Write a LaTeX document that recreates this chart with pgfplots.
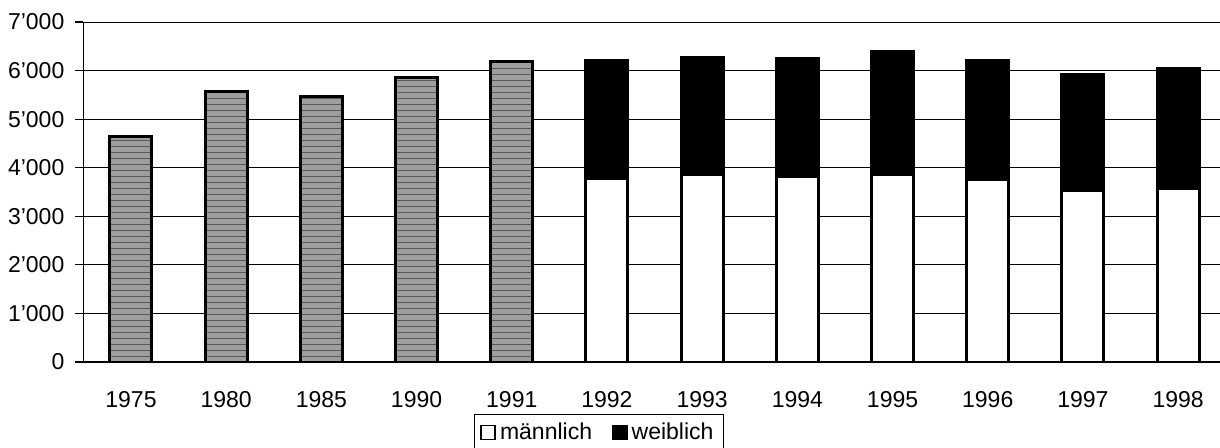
\documentclass[border=0pt]{standalone}
\usepackage{pgfplots}
\pgfplotsset{compat=1.18}
\usepackage{pgfplotstable}
\usetikzlibrary{patterns}
\usepackage{fontspec}
\setmainfont{Liberation Sans}
\pgfplotstableread{
idx year gray male female
0 1975 4650 0 0
1 1980 5560 0 0
2 1985 5470 0 0
3 1990 5850 0 0
4 1991 6180 0 0
5 1992 0 3780 2420
6 1993 0 3870 2400
7 1994 0 3820 2420
8 1995 0 3870 2530
9 1996 0 3750 2450
10 1997 0 3540 2380
11 1998 0 3580 2470
}\datatable
\begin{document}
\begin{tikzpicture}[x=1pt,y=1pt]
\useasboundingbox (0,0) rectangle (610,223.5);
\begin{axis}[
  at={(41.7pt,42.5pt)}, anchor=south west,
  scale only axis, width=568.3pt, height=170pt,
  xmin=-0.5, xmax=11.44, ymin=0, ymax=7000,
  ybar stacked, bar width=21pt,
  axis x line*=bottom, axis y line*=left,
  axis line style={black, line width=0.6pt},
  ytick={0,1000,...,7000},
  ymajorgrids, major grid style={black, line width=0.5pt},
  y tick style={black, line width=0.6pt},
  tick align=outside, major tick length=4pt,
  /pgf/number format/assume math mode=true,
  /pgf/number format/1000 sep={'},
  yticklabel style={font=\fontsize{11.5}{13}\selectfont, xshift=-2pt},
  xtick={0,...,11},
  xticklabels={1975,1980,1985,1990,1991,1992,1993,1994,1995,1996,1997,1998},
  x tick style={draw=none},
  xticklabel style={font=\fontsize{11.5}{13}\selectfont, yshift=-7pt},
  extra x ticks={0.5,1.5,...,10.5},
  extra x tick labels={},
  extra x tick style={tick align=inside, major tick length=3pt, tick style={draw=black, line width=0.6pt}},
  legend style={at={(0.4536,-0.153)}, anchor=north, draw=black, line width=0.5pt,
    font=\fontsize{11.5}{13}\selectfont, legend columns=2,
    inner xsep=3pt, inner ysep=2pt,
    /tikz/every even column/.append style={column sep=8pt}},
  legend image code/.code={\draw[#1, line width=0.8pt] (0pt,-3.5pt) rectangle (7pt,3.5pt);},
]
\addplot[fill=white, draw=black, line width=1.5pt] table[x=idx, y=male] {\datatable};
\addlegendentry{männlich}
\addplot[fill=black, draw=black, line width=1.5pt] table[x=idx, y=female] {\datatable};
\addlegendentry{weiblich}
\addplot[fill=black!38, draw=black, line width=1.5pt,
  postaction={pattern=horizontal lines, pattern color=black!65}] table[x=idx, y=gray] {\datatable};
\end{axis}
\end{tikzpicture}
\end{document}
